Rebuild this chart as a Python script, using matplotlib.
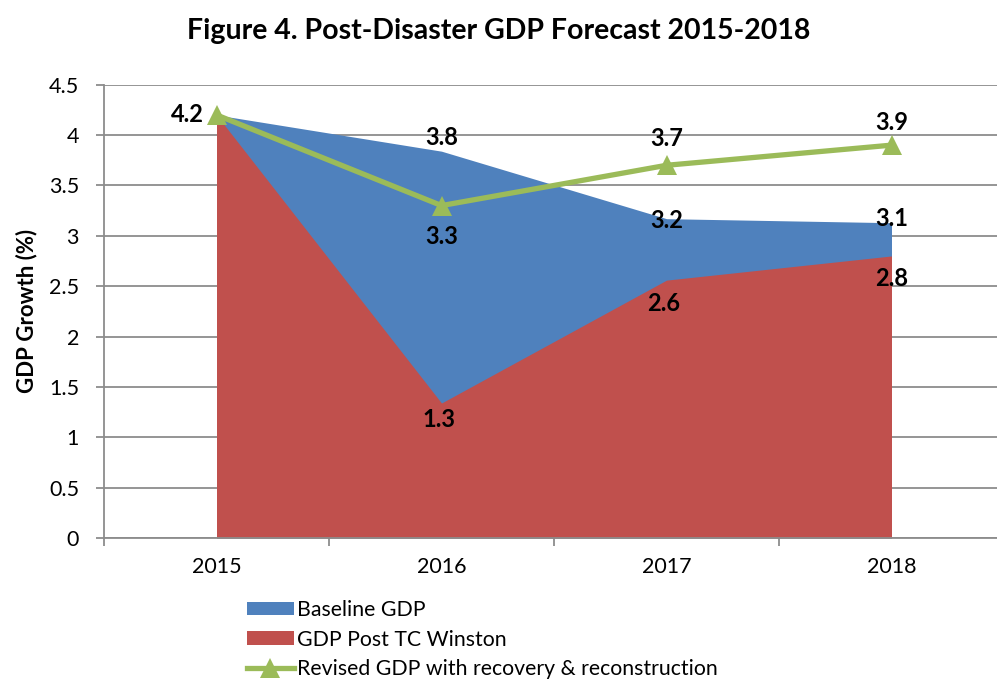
import matplotlib.pyplot as plt
from matplotlib.patches import Patch
from matplotlib.lines import Line2D

years = ["2015", "2016", "2017", "2018"]
baseline_gdp = [4.2, 3.84, 3.17, 3.13]
post_winston = [4.2, 1.34, 2.56, 2.8]
revised_gdp = [4.2, 3.3, 3.7, 3.9]

BLUE = "#4F81BD"
RED = "#C0504D"
GREEN = "#9BBB59"
GRID = "#8C8C8C"

plt.rcParams["font.family"] = ["Lato", "DejaVu Sans"]

fig = plt.figure(figsize=(9.97, 6.83), dpi=100)
ax = fig.add_axes([104 / 997, 145 / 683, 900 / 997, 453.3 / 683])

x = list(range(len(years)))

ax.fill_between(x, 0, baseline_gdp, color=BLUE, linewidth=0, zorder=2)
ax.fill_between(x, 0, post_winston, color=RED, linewidth=0, zorder=3)
ax.plot(x, revised_gdp, color=GREEN, linewidth=3.8, marker="^",
        markersize=14, markeredgewidth=0, zorder=4, clip_on=False)

ax.set_xlim(-0.5, 3.5)
ax.set_ylim(0, 4.5)
ax.set_yticks([i * 0.5 for i in range(10)])
ax.set_yticklabels(["0", "0.5", "1", "1.5", "2", "2.5", "3", "3.5", "4", "4.5"])
ax.yaxis.grid(True, color=GRID, linewidth=1.3, zorder=1)
ax.set_axisbelow(True)

# category ticks sit between the years, labels at the centres
ax.set_xticks([-0.5, 0.5, 1.5, 2.5, 3.5])
ax.set_xticklabels([])
ax.set_xticks(x, minor=True)
ax.set_xticklabels(years, minor=True)
ax.tick_params(axis="x", which="major", length=6, width=1.3, color=GRID, direction="out")
ax.tick_params(axis="x", which="minor", length=0, pad=14, labelsize=15.5)
ax.tick_params(axis="y", length=6, width=1.3, color=GRID, labelsize=15.5, pad=12)

for side in ["top", "right"]:
    ax.spines[side].set_visible(False)
for side in ["left", "bottom"]:
    ax.spines[side].set_color(GRID)
    ax.spines[side].set_linewidth(1.3)
    ax.spines[side].set_zorder(5)

ax.set_ylabel("GDP Growth (%)", fontsize=16, fontweight="bold", labelpad=8)

lbl = dict(fontsize=17, fontweight="bold", ha="center", va="center",
           textcoords="offset points", zorder=6)

# baseline labels
ax.annotate(f"{baseline_gdp[1]:.1f}", (1, baseline_gdp[1]), xytext=(0, 10), **lbl)
ax.annotate(f"{baseline_gdp[2]:.1f}", (2, baseline_gdp[2]), xytext=(0, -1), **lbl)
ax.annotate(f"{baseline_gdp[3]:.1f}", (3, baseline_gdp[3]), xytext=(0, 3), **lbl)

# post-cyclone labels
ax.annotate(f"{post_winston[1]:.1f}", (1, post_winston[1]), xytext=(-2, -12), **lbl)
ax.annotate(f"{post_winston[2]:.1f}", (2, post_winston[2]), xytext=(-2, -17), **lbl)
ax.annotate(f"{post_winston[3]:.1f}", (3, post_winston[3]), xytext=(0, -16), **lbl)

# revised path labels
ax.annotate(f"{revised_gdp[0]:.1f}", (0, revised_gdp[0]), xytext=(-21, 0), **lbl)
ax.annotate(f"{revised_gdp[1]:.1f}", (1, revised_gdp[1]), xytext=(0, -22), **lbl)
ax.annotate(f"{revised_gdp[2]:.1f}", (2, revised_gdp[2]), xytext=(0, 19), **lbl)
ax.annotate(f"{revised_gdp[3]:.1f}", (3, revised_gdp[3]), xytext=(0, 16), **lbl)

fig.text(0.5, 0.955, "Figure 4. Post-Disaster GDP Forecast 2015-2018",
         ha="center", va="center", fontsize=20.5, fontweight="bold")

handles = [
    Patch(facecolor=BLUE, edgecolor="none"),
    Patch(facecolor=RED, edgecolor="none"),
    Line2D([], [], color=GREEN, linewidth=3.8, marker="^", markersize=14,
           markeredgewidth=0),
]
labels = ["Baseline GDP", "GDP Post TC Winston",
          "Revised GDP with recovery & reconstruction"]
fig.legend(handles, labels, loc="upper left", bbox_to_anchor=(247 / 997, 1 - 600 / 683),
           frameon=False, fontsize=15.3, handlelength=2.2, handleheight=0.6,
           handletextpad=0.15, labelspacing=0.45, borderpad=0, borderaxespad=0)

fig.savefig("out.png", dpi=100)
